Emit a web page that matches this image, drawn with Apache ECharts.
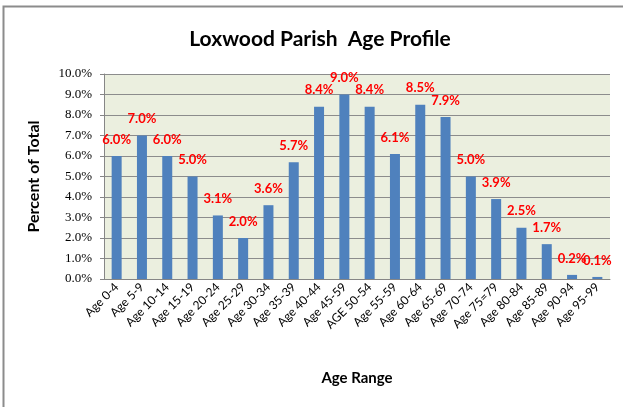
<!DOCTYPE html>
<html lang="en">
<head>
    <meta charset="UTF-8">
    <title>Loxwood Parish Age Profile</title>
    <script src="https://cdn.jsdelivr.net/npm/echarts@6/dist/echarts.min.js"></script>
    <style>
        html, body { margin: 0; padding: 0; background: #fff; }
    </style>
</head>
<body>
<div id="main" style="width: 623px; height: 407px;"></div>
<script type="text/javascript">
    var ageRanges = ['Age 0-4', 'Age 5-9', 'Age 10-14', 'Age 15-19', 'Age 20-24', 'Age 25-29',
        'Age 30-34', 'Age 35-39', 'Age 40-44', 'Age 45-59', 'AGE 50-54', 'Age 55-59',
        'Age 60-64', 'Age 65-69', 'Age 70-74', 'Age 75=79', 'Age 80-84', 'Age 85-89',
        'Age 90-94', 'Age 95-99'];
    var percents = [6.0, 7.0, 6.0, 5.0, 3.1, 2.0, 3.6, 5.7, 8.4, 9.0,
        8.4, 6.1, 8.5, 7.9, 5.0, 3.9, 2.5, 1.7, 0.2, 0.1];

    var myChart = echarts.init(document.getElementById('main'));
    var option = {
        animation: false,
        title: {
            text: 'Loxwood Parish  Age Profile',
            left: 315,
            textAlign: 'center',
            top: 24,
            textStyle: { fontFamily: 'Lato', fontSize: 21, fontWeight: 'bold', color: '#000' }
        },
        graphic: [{
            type: 'rect',
            shape: { x: 3.5, y: 6.5, width: 640, height: 420 },
            style: { fill: 'none', stroke: '#8c8c8c', lineWidth: 2 },
            silent: true
        }],
        grid: {
            left: 104, right: 13, top: 74, bottom: 128,
            show: true,
            backgroundColor: '#ebefdf',
            borderWidth: 0
        },
        xAxis: {
            type: 'category',
            data: ageRanges,
            name: 'Age Range',
            nameLocation: 'middle',
            nameGap: 92,
            nameTextStyle: { fontFamily: 'Lato', fontSize: 15, fontWeight: 'bold', color: '#000' },
            axisLine: { lineStyle: { color: '#868686' } },
            axisTick: { show: false },
            axisLabel: {
                rotate: 45, interval: 0, margin: 6,
                fontFamily: 'Lato', fontSize: 12, color: '#000'
            }
        },
        yAxis: {
            type: 'value',
            min: 0, max: 10, interval: 1,
            name: 'Percent of Total',
            nameLocation: 'middle',
            nameGap: 62,
            nameTextStyle: { fontFamily: 'Lato', fontSize: 16, fontWeight: 'bold', color: '#000' },
            axisLine: { show: true, lineStyle: { color: '#868686' } },
            axisTick: { show: true, length: 4, lineStyle: { color: '#868686' } },
            splitLine: { lineStyle: { color: '#8c8c8c' } },
            axisLabel: {
                margin: 12,
                fontFamily: 'Liberation Serif', fontSize: 13, color: '#000',
                formatter: function (v) { return v.toFixed(1) + '%'; }
            }
        },
        series: [{
            type: 'bar',
            data: percents,
            barWidth: 10,
            itemStyle: { color: '#4f81bd' },
            label: {
                show: true,
                position: 'top',
                distance: 10,
                color: '#ff0000',
                fontFamily: 'Lato',
                fontWeight: 'bold',
                fontSize: 13,
                formatter: function (p) { return p.value.toFixed(1) + '%'; }
            }
        }]
    };
    myChart.setOption(option);
</script>
</body>
</html>
